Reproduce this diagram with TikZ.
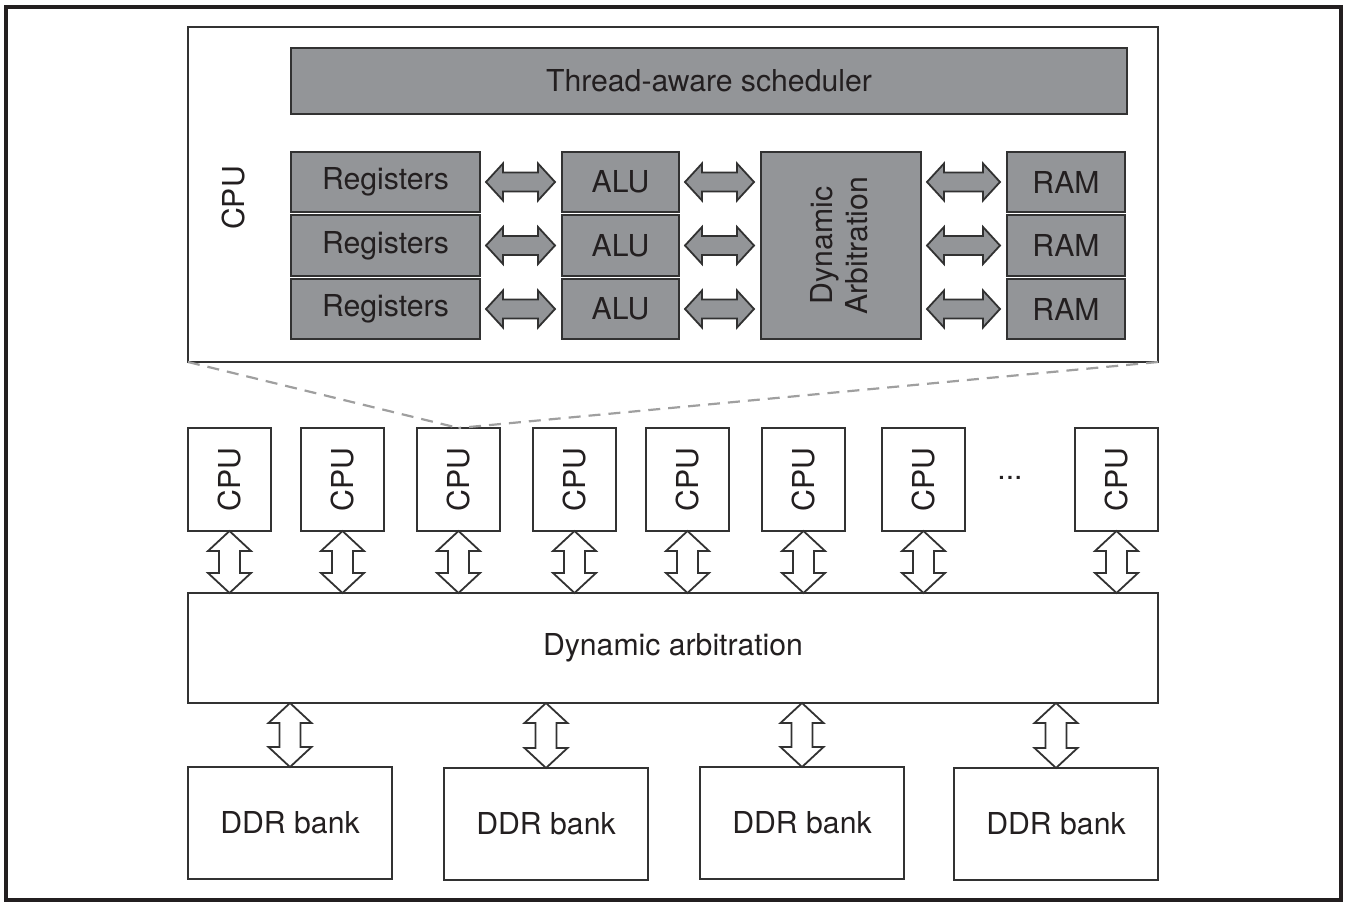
\documentclass[tikz,border=0pt]{standalone}
\usepackage{fontspec}
\setmainfont{TeX Gyre Heros}
\usetikzlibrary{calc}
\definecolor{boxgray}{RGB}{147,149,152}
\definecolor{ink}{RGB}{35,31,32}
\definecolor{edge}{RGB}{50,50,50}
\tikzset{
  lbl/.style={font=\fontsize{30.2}{35}\selectfont, text=ink},
  whitebox/.style={draw=edge, line width=1.6pt, fill=white, inner sep=0pt, outer sep=0pt, lbl},
  graybox/.style={draw=edge, line width=2pt, fill=boxgray, inner sep=0pt, outer sep=0pt, lbl},
  garrow/.style={draw=edge, line width=1.8pt, fill=boxgray, line join=miter},
  warrow/.style={draw=edge, line width=1.8pt, fill=white, line join=miter},
  zoomline/.style={draw=gray!75, line width=2.2pt, dash pattern=on 12pt off 8pt}
}
% horizontal fat double arrow: #1 left node, #2 right node, #3 node giving y
\newcommand\harr[3]{%
  \path[garrow] let \p1=(#1.east), \p2=(#2.west), \p3=(#3.center) in
    (\x1+6pt,\y3) -- (\x1+23pt,\y3+18.5pt) -- (\x1+23pt,\y3+9.5pt)
    -- (\x2-24pt,\y3+9.5pt) -- (\x2-24pt,\y3+18.5pt) -- (\x2-7pt,\y3)
    -- (\x2-24pt,\y3-18.5pt) -- (\x2-24pt,\y3-9.5pt) -- (\x1+23pt,\y3-9.5pt)
    -- (\x1+23pt,\y3-18.5pt) -- cycle;}
% vertical white double arrow: #1 upper node, #2 lower node, #3 node giving x
\newcommand\varr[3]{%
  \path[warrow] let \p1=(#1.south), \p2=(#2.north), \p3=(#3.center) in
    (\x3,\y1) -- (\x3+21.5pt,\y1-20pt) -- (\x3+10.5pt,\y1-20pt)
    -- (\x3+10.5pt,\y2+20pt) -- (\x3+21.5pt,\y2+20pt) -- (\x3,\y2)
    -- (\x3-21.5pt,\y2+20pt) -- (\x3-10.5pt,\y2+20pt) -- (\x3-10.5pt,\y1-20pt)
    -- (\x3-21.5pt,\y1-20pt) -- cycle;}
\begin{document}
\begin{tikzpicture}[x=1pt,y=-1pt]
\useasboundingbox (0,0) rectangle (1346,904);
\draw[draw=ink, line width=3.5pt] (6,7) rectangle (1341,900);

% zoomed CPU
\node[whitebox, minimum width=970pt, minimum height=335pt] (big) at (673,194.5) {};
\node[lbl, rotate=90] (biglbl) at (233,198) {CPU};
\node[graybox, minimum width=836pt, minimum height=66pt] (sched) at (709,81) {Thread-aware scheduler};

\foreach \i/\y/\h in {1/182/60,2/245.5/61,3/309/60}{
  \node[graybox, minimum width=189pt, minimum height=\h pt] (reg\i) at (385.5,\y) {Registers};
  \node[graybox, minimum width=117pt, minimum height=\h pt] (alu\i) at (620.5,\y) {ALU};
  \node[graybox, minimum width=118pt, minimum height=\h pt] (ram\i) at (1066,\y) {RAM};
}
\node[graybox, minimum width=160pt, minimum height=187pt] (dyn) at (841,245.5) {};
\node[lbl, rotate=90, align=center] (dynlbl) at (839,245.5) {Dynamic\\Arbitration};

\foreach \i in {1,2,3}{
  \harr{reg\i}{alu\i}{alu\i}
  \harr{alu\i}{dyn}{alu\i}
  \harr{dyn}{ram\i}{ram\i}
}

% CPUs
\foreach \i/\x in {1/229.5,2/342.5,3/458.5,4/574.5,5/687.5,6/803.5,7/923.5,8/1116.5}{
  \node[whitebox, minimum width=83pt, minimum height=103pt] (cpu\i) at (\x,479.5) {};
  \node[lbl, rotate=90] (cpulbl\i) at (\x,479.5) {CPU};
}
\node[lbl] (dots) at (1010,478) {...};

\draw[zoomline] (big.south west) -- (cpu3.north);
\draw[zoomline] (big.south east) -- (cpu3.north);

\node[whitebox, minimum width=970pt, minimum height=110pt] (darb) at (673,648) {Dynamic arbitration};

\foreach \i in {1,...,8}{ \varr{cpu\i}{darb}{cpu\i} }

\foreach \i/\x/\y in {1/290/823,2/546/824,3/802/823,4/1056/824}{
  \node[whitebox, minimum width=204pt, minimum height=112pt] (ddr\i) at (\x,\y) {DDR bank};
  \varr{darb}{ddr\i}{ddr\i}
}
\end{tikzpicture}
\end{document}
